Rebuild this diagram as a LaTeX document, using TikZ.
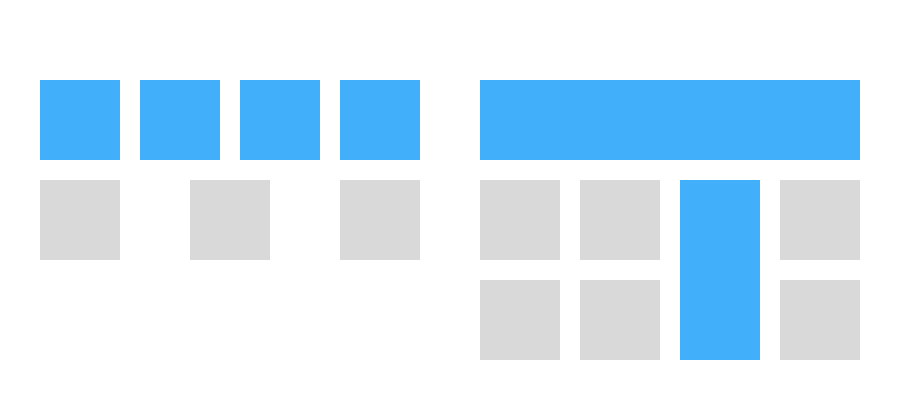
\documentclass[tikz,border=0pt]{standalone}
\usetikzlibrary{positioning}
\definecolor{cellblue}{RGB}{66,175,250}
\definecolor{cellgray}{RGB}{217,217,217}
\tikzset{
    cell/.style={rectangle,inner sep=0,outer sep=0,anchor=north west,
                 minimum width=1.6cm,minimum height=1.6cm},
    on/.style={cell,fill=cellblue},
    off/.style={cell,fill=cellgray}
}
\begin{document}
\begin{tikzpicture}[x=0.02cm,y=-0.02cm]
\useasboundingbox (0,0) rectangle (900,400);
% left part
\begin{scope}
    \node[on] (B1) at (40,80) {};
    \node[on] (B2) at (140,80) {};
    \node[on] (B3) at (240,80) {};
    \node[on] (B4) at (340,80) {};
    \node[off] (G1) at (40,180) {};
    \node[off] (G2) at (190,180) {};
    \node[off] (G3) at (340,180) {};
\end{scope}
% right part
\begin{scope}
    \node[on,minimum width=7.6cm] (Bar) at (480,80) {};
    \node[off] (R11) at (480,180) {};
    \node[off] (R12) at (580,180) {};
    \node[on,minimum height=3.6cm] (Col) at (680,180) {};
    \node[off] (R14) at (780,180) {};
    \node[off] (R21) at (480,280) {};
    \node[off] (R22) at (580,280) {};
    \node[off] (R24) at (780,280) {};
\end{scope}
\end{tikzpicture}
\end{document}
